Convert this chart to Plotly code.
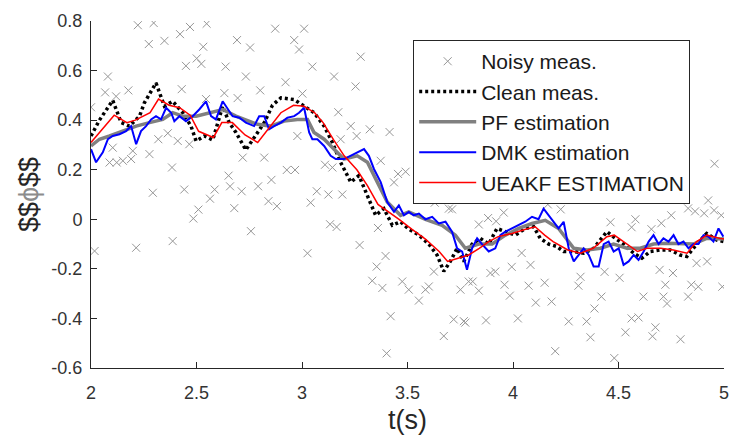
import plotly.graph_objects as go

# ---------------- data ----------------
noisy_t = [2.0, 2.017, 2.067, 2.08, 2.088, 2.103, 2.119, 2.122, 2.151, 2.177, 2.19, 2.198, 2.214, 2.222,
           2.274, 2.277, 2.293, 2.297, 2.319, 2.348, 2.364, 2.384, 2.387, 2.411, 2.422, 2.43, 2.442, 2.45,
           2.466, 2.469, 2.485, 2.501, 2.509, 2.523, 2.532, 2.545, 2.548, 2.564, 2.586, 2.632, 2.638, 2.652,
           2.659, 2.679, 2.692, 2.695, 2.714, 2.719, 2.734,
           2.754, 2.758, 2.792, 2.802, 2.821, 2.841, 2.855, 2.873, 2.881, 2.922, 2.928, 2.963, 2.967, 2.978,
           2.986, 3.002, 3.010, 3.026, 3.041, 3.049, 3.07, 3.109, 3.125, 3.133, 3.144, 3.152, 3.164, 3.172,
           3.183, 3.191, 3.231, 3.254, 3.259, 3.273, 3.278, 3.321, 3.333, 3.354, 3.36, 3.373, 3.381, 3.396,
           3.401, 3.415, 3.42, 3.436, 3.455, 3.475, 3.491,
           3.506, 3.554, 3.585, 3.601, 3.625, 3.629, 3.672, 3.696, 3.711, 3.719, 3.751, 3.767, 3.774, 3.79,
           3.809, 3.838, 3.838, 3.872, 3.882, 3.893, 3.916, 3.92, 3.956,
           3.96, 3.985, 3.994, 4.023, 4.041, 4.074, 4.083, 4.108, 4.15, 4.165, 4.183, 4.2, 4.226, 4.264,
           4.31, 4.32, 4.349, 4.367, 4.386, 4.419, 4.434, 4.462, 4.48, 4.505, 4.533, 4.562, 4.562, 4.58,
           4.595, 4.618, 4.656, 4.661, 4.675, 4.695, 4.703, 4.713, 4.722, 4.73, 4.75, 4.758, 4.794, 4.83,
           4.83, 4.845, 4.863, 4.87, 4.878, 4.906, 4.92, 4.925, 4.953, 4.955, 4.987, 4.992]
noisy_v = [0.452, -0.128, 0.512, 0.576, 0.229, 0.289, 0.496, 0.229, 0.236, 0.52, 0.243, 0.276, -0.115, 0.783,
           0.707, 0.263, 0.107, 0.792, 0.323, 0.72, 0.347, 0.209, -0.088, 0.316, 0.747, 0.525, 0.12, 0.619,
           0.303, 0.776, 0.003, 0.649, 0.039, 0.627, 0.696, 0.485, 0.789, 0.083, 0.12, 0.509, 0.616, 0.176,
           0.133, 0.045, 0.723, 0.489, 0.113, 0.249, 0.576,
           0.693, -0.048, 0.133, 0.52, 0.249, 0.073, 0.159, 0.769, 0.053, 0.553, 0.199, 0.723, 0.199, 0.336,
           0.685, 0.507, 0.769, -0.137, 0.067, 0.616, 0.113, 0.22, 0.1, -0.02, 0.209, 0.576, -0.031, 0.432,
           0.323, 0.1, 0.376, 0.536, 0.336, -0.104, 0.656, 0.363, -0.248, -0.191, -0.035, 0.236, -0.277, -0.148,
           -0.541, 0.352, -0.391, 0.149, 0.183, -0.251, 0.192,
           -0.284, -0.328, -0.284, -0.271, -0.211, 0.067, -0.471, 0.043, 0.04, -0.404, -0.284, -0.411, -0.417, -0.251,
           -0.251, -0.021, -0.288, -0.408, 0.005, -0.217, -0.211, -0.008, 0.027,
           -0.264, -0.308, -0.192, -0.4, -0.136, -0.268, -0.184, -0.336, -0.256, 0.06, -0.332, -0.532, 0.04, -0.412,
           -0.268, -0.232, -0.412, -0.476, -0.36, -0.312, -0.212, -0.012, -0.56, -0.236, -0.456, -0.032, -0.4, 0.0,
           -0.396, -0.312, -0.04, -0.472, -0.436, -0.204, -0.016, -0.312, -0.264, -0.34, 0.016, -0.217, -0.484, 0.044,
           -0.312, -0.264, 0.032, -0.177, -0.272, 0.024, -0.17, 0.076, 0.036, 0.224, 0.016, -0.272]

clean_t = [2.0, 2.04, 2.103, 2.143, 2.182, 2.23, 2.253, 2.308, 2.348, 2.387, 2.435, 2.474, 2.498, 2.537,
           2.577, 2.624, 2.655, 2.687, 2.734, 2.758, 2.789, 2.821, 2.86, 2.90, 2.963, 3.01, 3.057, 3.105,
           3.144, 3.183, 3.231, 3.27, 3.31, 3.349, 3.388, 3.428, 3.467, 3.506, 3.554, 3.601, 3.64, 3.672,
           3.703, 3.735, 3.767, 3.806, 3.845, 3.885, 3.924, 3.964, 4.011, 4.058, 4.098, 4.129, 4.169, 4.208,
           4.24, 4.288, 4.335, 4.382, 4.422, 4.445, 4.485, 4.524, 4.572, 4.611, 4.65, 4.698, 4.745, 4.792,
           4.824, 4.871, 4.918, 4.966, 5.0]
clean_v = [0.336, 0.40, 0.48, 0.39, 0.376, 0.416, 0.47, 0.55, 0.456, 0.476, 0.43, 0.376, 0.316, 0.336,
           0.32, 0.456, 0.39, 0.35, 0.28, 0.31, 0.35, 0.39, 0.46, 0.49, 0.483, 0.456, 0.43, 0.376,
           0.31, 0.23, 0.15, 0.176, 0.096, 0.016, 0.043, -0.024, -0.01, -0.04, -0.064, -0.10, -0.144, -0.21,
           -0.17, -0.117, -0.17, -0.10, -0.077, -0.10, -0.037, -0.05, -0.064, -0.037, -0.03, -0.077, -0.10, -0.11,
           -0.13, -0.13, -0.137, -0.117, -0.077, -0.05, -0.077, -0.10, -0.137, -0.157, -0.13, -0.124, -0.124, -0.144,
           -0.15, -0.10, -0.057, -0.084, -0.09]

pf_t = [2.0, 2.04, 2.088, 2.151, 2.214, 2.277, 2.34, 2.387, 2.435, 2.498, 2.56, 2.624, 2.687, 2.75,
        2.789, 2.852, 2.915, 2.978, 3.026, 3.057, 3.105, 3.152, 3.199, 3.262, 3.31, 3.357, 3.404, 3.467,
        3.506, 3.585, 3.664, 3.727, 3.774, 3.838, 3.901, 3.964, 4.027, 4.09, 4.153, 4.216,
        4.24, 4.288, 4.351, 4.414, 4.477, 4.54, 4.603, 4.666, 4.729, 4.792, 4.855, 4.918, 4.982, 5.0]
pf_v = [0.296, 0.323, 0.336, 0.356, 0.376, 0.39, 0.403, 0.43, 0.416, 0.416, 0.43, 0.443, 0.416, 0.396,
        0.383, 0.376, 0.396, 0.403, 0.403, 0.35, 0.323, 0.283, 0.243, 0.256, 0.23, 0.15, 0.07, 0.016,
        0.03, 0.0, -0.024, -0.064, -0.117, -0.10, -0.10, -0.064, -0.037, -0.017, -0.004, -0.037,
        -0.064, -0.117, -0.124, -0.117, -0.10, -0.117, -0.117, -0.10, -0.097, -0.097, -0.10, -0.077, -0.077, -0.08]

dmk_t = [2.0, 2.024, 2.056, 2.08, 2.103, 2.135, 2.166, 2.19, 2.214, 2.237, 2.261, 2.285, 2.308, 2.332,
         2.356, 2.38, 2.395, 2.419, 2.45, 2.482, 2.513, 2.545, 2.569, 2.592, 2.624, 2.648, 2.671, 2.703,
         2.734, 2.773, 2.797, 2.821, 2.844, 2.868, 2.90, 2.931, 2.963, 2.986, 3.01, 3.034, 3.049, 3.073,
         3.105, 3.136, 3.16, 3.199, 3.231, 3.262, 3.294, 3.317, 3.341, 3.373, 3.404, 3.436, 3.459, 3.483,
         3.506, 3.53, 3.554, 3.585, 3.617, 3.648, 3.68, 3.711, 3.735, 3.759, 3.782, 3.806, 3.83, 3.853,
         3.885, 3.916, 3.94, 3.964, 3.995, 4.027, 4.058, 4.09, 4.121, 4.145, 4.169, 4.192, 4.216, 4.24,
         4.264, 4.288, 4.311, 4.335, 4.359, 4.382, 4.406, 4.43, 4.453, 4.477, 4.501, 4.524, 4.548, 4.572,
         4.595, 4.619, 4.643, 4.666, 4.69, 4.713, 4.737, 4.761, 4.784, 4.808, 4.832, 4.855, 4.879, 4.903,
         4.926, 4.95, 4.974, 4.997]
dmk_v = [0.283, 0.23, 0.27, 0.323, 0.336, 0.343, 0.356, 0.376, 0.303, 0.356, 0.376, 0.403, 0.416, 0.403,
         0.45, 0.43, 0.396, 0.416, 0.396, 0.416, 0.443, 0.476, 0.416, 0.403, 0.476, 0.443, 0.416, 0.41,
         0.39, 0.376, 0.416, 0.416, 0.363, 0.376, 0.39, 0.41, 0.416, 0.43, 0.45, 0.35, 0.323, 0.323,
         0.296, 0.256, 0.243, 0.243, 0.256, 0.27, 0.283, 0.256, 0.203, 0.15, 0.07, 0.03, 0.056, 0.016,
         0.03, 0.016, 0.023, 0.0, 0.01, -0.017, -0.01, -0.05, -0.117, -0.13, -0.204, -0.117, -0.077, -0.10,
         -0.13, -0.117, -0.064, -0.05, -0.037, -0.024, -0.01, 0.01, 0.0, 0.043, 0.016, -0.01, -0.037, -0.01,
         -0.117, -0.17, -0.144, -0.117, -0.144, -0.19, -0.19, -0.10, -0.09, -0.13, -0.117, -0.184, -0.17, -0.144,
         -0.164, -0.13, -0.09, -0.064, -0.10, -0.077, -0.09, -0.064, -0.10, -0.09, -0.117, -0.10, -0.10, -0.064,
         -0.07, -0.09, -0.037, -0.07]

ueakf_t = [2.0, 2.11, 2.17, 2.21, 2.28, 2.32, 2.37, 2.42, 2.47, 2.51, 2.58, 2.62, 2.67, 2.73,
           2.79, 2.85, 2.90, 2.96, 3.01, 3.06, 3.10, 3.15, 3.20, 3.26, 3.31, 3.36, 3.40, 3.46,
           3.52, 3.585, 3.65, 3.69, 3.74, 3.79, 3.84, 3.885, 3.93, 3.995, 4.06, 4.105, 4.15, 4.19,
           4.26, 4.32, 4.38, 4.445, 4.48, 4.525, 4.59, 4.635, 4.70, 4.76, 4.825, 4.87, 4.92, 4.98, 5.0]
ueakf_v = [0.31, 0.42, 0.39, 0.40, 0.43, 0.485, 0.46, 0.45, 0.42, 0.355, 0.33, 0.39, 0.39, 0.34,
           0.31, 0.376, 0.43, 0.46, 0.456, 0.43, 0.39, 0.32, 0.256, 0.20, 0.136, 0.06, 0.036, 0.0,
           -0.04, -0.08, -0.13, -0.17, -0.157, -0.144, -0.117, -0.09, -0.07, -0.057, -0.04, -0.03, -0.064, -0.09,
           -0.124, -0.137, -0.117, -0.07, -0.064, -0.09, -0.13, -0.117, -0.117, -0.124, -0.137, -0.09, -0.064, -0.077, -0.08]

x_ticks = [2, 2.5, 3, 3.5, 4, 4.5, 5]
x_ticktext = ["2", "2.5", "3", "3.5", "4", "4.5", "5"]
y_ticks = [-0.6, -0.4, -0.2, 0, 0.2, 0.4, 0.6, 0.8]
y_ticktext = ["-0.6", "-0.4", "-0.2", "0", "0.2", "0.4", "0.6", "0.8"]

# ---------------- figure ----------------
FONT = "Liberation Sans, Arial, sans-serif"
AX = "#262626"

fig = go.Figure()
fig.add_trace(go.Scatter(x=noisy_t, y=noisy_v, mode="markers", name="Noisy meas.",
                         marker=dict(symbol="x-thin-open", size=8, color="rgb(150,150,150)",
                                     line=dict(width=1, color="rgb(150,150,150)"))))
fig.add_trace(go.Scatter(x=clean_t, y=clean_v, mode="lines", name="Clean meas.",
                         line=dict(color="black", width=3.5, dash="3px,3px")))
fig.add_trace(go.Scatter(x=pf_t, y=pf_v, mode="lines", name="PF estimation",
                         line=dict(color="rgb(128,128,128)", width=3.5)))
fig.add_trace(go.Scatter(x=dmk_t, y=dmk_v, mode="lines", name="DMK estimation",
                         line=dict(color="rgb(0,0,255)", width=2)))
fig.add_trace(go.Scatter(x=ueakf_t, y=ueakf_v, mode="lines", name="UEAKF ESTIMATION",
                         line=dict(color="rgb(255,0,0)", width=1.5)))

axis_common = dict(showline=True, linecolor=AX, linewidth=1, mirror=False, showgrid=False,
                   zeroline=False, ticks="inside", ticklen=6, tickcolor=AX, tickwidth=1,
                   automargin=False,
                   tickfont=dict(family=FONT, size=18, color="#333333"))

fig.update_layout(
    width=731, height=435,
    margin=dict(l=91, r=7, t=21, b=67),
    paper_bgcolor="white", plot_bgcolor="white",
    font=dict(family=FONT, color="#262626"),
    showlegend=True,
    legend=dict(x=0.509, y=0.945, xanchor="left", yanchor="top",
                bgcolor="white", bordercolor=AX, borderwidth=1,
                font=dict(family=FONT, size=21, color="#1a1a1a"),
                itemwidth=57, tracegroupgap=0),
    xaxis=dict(range=[2, 5], tickvals=x_ticks, ticktext=x_ticktext, ticklabelstandoff=8,
               title=dict(text="t(s)", font=dict(family=FONT, size=27, color="#262626"), standoff=10),
               **axis_common),
    yaxis=dict(range=[-0.6, 0.8], tickvals=y_ticks, ticktext=y_ticktext, ticklabelstandoff=4,
               title=dict(text="&#36;&#36;<span style=\"color:#8c8c8c\">ϕ</span>&#36;&#36;",
                          font=dict(family=FONT, size=27, color="#262626"), standoff=4),
               **axis_common),
)

fig.write_html("out.html", config={"displayModeBar": False},
               post_script="document.body.style.margin='0';document.body.style.overflow='hidden';")
